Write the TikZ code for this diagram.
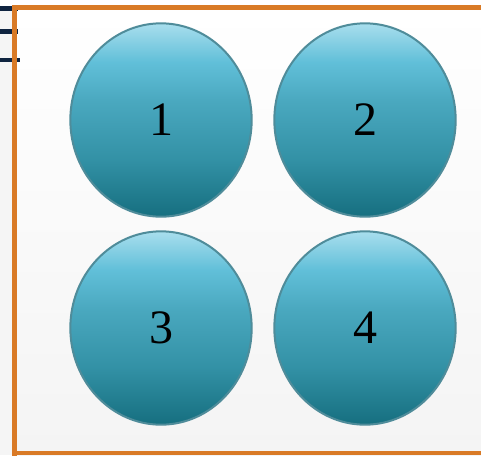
\documentclass[tikz,border=0pt]{standalone}
\usepackage{fontspec}
\setmainfont{Liberation Serif}
\usetikzlibrary{shapes.geometric}
\definecolor{navy}{HTML}{0F2440}
\definecolor{frameorange}{HTML}{D97A26}
\definecolor{ellline}{HTML}{4F8C9A}
\definecolor{bgtop}{HTML}{FFFFFF}
\definecolor{bgbot}{HTML}{F4F4F4}
\definecolor{outbg}{HTML}{F5F5F5}
\pgfdeclareverticalshading{ballshade}{100bp}{%
  rgb(0bp)=(0.086,0.435,0.5);%
  rgb(25bp)=(0.086,0.435,0.5);%
  rgb(40bp)=(0.20,0.57,0.65);%
  rgb(55bp)=(0.29,0.66,0.75);%
  rgb(65bp)=(0.38,0.75,0.85);%
  rgb(75bp)=(0.66,0.87,0.93);%
  rgb(100bp)=(0.66,0.87,0.93)}
\tikzset{
  ball/.style={ellipse, draw=ellline, line width=1.5pt, shading=ballshade,
    minimum width=136pt, minimum height=145pt, inner sep=0pt,
    font=\fontsize{36}{40}\selectfont, text=black},
  navyline/.style={navy, line width=3.2pt},
}
\begin{document}
\begin{tikzpicture}[x=0.75pt,y=-0.75pt]
\useasboundingbox (0,0) rectangle (481,455);
\clip (0,0) rectangle (481,455);
\fill[outbg] (0,0) rectangle (481,455);
\fill[white] (0,0) rectangle (481,6);
\shade[top color=bgtop, bottom color=bgbot] (14,7) rectangle (481,455);
\draw[navyline] (0,8.5) coordinate (l1a) -- (18,8.5) coordinate (l1b);
\draw[navyline] (0,31.5) coordinate (l2a) -- (18,31.5) coordinate (l2b);
\draw[navyline] (0,60) coordinate (l3a) -- (20,60) coordinate (l3b);
\draw[frameorange, line width=3.6pt] (14.5,456) -- (14.5,7.5) -- (490,7.5);
\draw[frameorange, line width=3.6pt] (12,453) -- (490,453);
\node[ball] (b1) at (161,120) {1};
\node[ball] (b2) at (365,120) {2};
\node[ball] (b3) at (161,328) {3};
\node[ball] (b4) at (365,328) {4};
\end{tikzpicture}
\end{document}
